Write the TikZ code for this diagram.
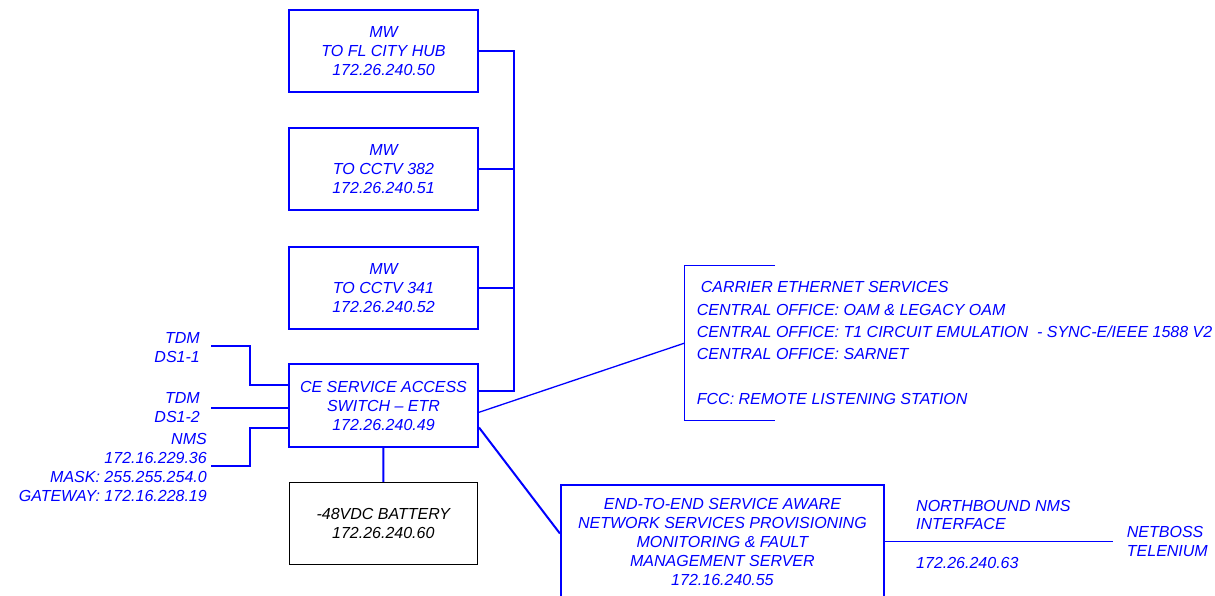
\documentclass[tikz,border=0pt]{standalone}
\usepackage{fontspec}
\setmainfont{Liberation Sans}
\usetikzlibrary{arrows,positioning,shapes}
\usepackage{xcolor}
\definecolor{netblue}{RGB}{0,0,255}

\begin{document}
\begin{tikzpicture}[x=1pt, y=-1pt,
    every node/.style={
        inner sep=0pt,
        align=center,
        text=netblue,
        font=\fontsize{16}{19}\selectfont\itshape
    },
    box/.style={rectangle, draw=netblue, line width=2pt, minimum width=189pt, minimum height=82pt},
    link/.style={draw=netblue, line width=2pt}
]
\useasboundingbox (0,0) rectangle (1215,596);



    \node (mw_fl_city_hub) [box, shift={(383.5, 51)}]
    {
        MW\\TO FL CITY HUB\\172.26.240.50
    };

    \node (mw_cctv_382) [box, shift={(383.5, 169)}]
    {
        MW\\TO CCTV 382\\172.26.240.51
    };

    \node (mw_cctv_341) [box, shift={(383.5, 287.7)}]
    {
        MW\\TO CCTV 341\\172.26.240.52
    };

    \node (ce_switch_etr) [box, minimum height=83pt, shift={(383.5, 405.5)}]
    {
        CE SERVICE ACCESS\\SWITCH -- ETR\\172.26.240.49
    };

    \node (battery_48vdc) [box, draw=black, text=black, line width=0.9pt, minimum width=188pt, shift={(383.3, 523.2)}]
    {
        -48VDC BATTERY\\172.26.240.60
    };

    \node (nms_server) [box, minimum width=323pt, minimum height=113pt, shift={(722.4, 541.5)}]
    {
        END-TO-END SERVICE AWARE\\NETWORK SERVICES PROVISIONING\\MONITORING \& FAULT\\MANAGEMENT SERVER\\172.16.240.55
    };





    \node (tdm_ds1_1) [anchor=east, align=right, shift={(200, 348)}]
    {
        TDM\\DS1-1
    };

    \node (tdm_ds1_2) [anchor=east, align=right, shift={(200, 407.2)}]
    {
        TDM\\DS1-2
    };

    \node (nms_mgmt) [anchor=east, align=right, shift={(207, 467.4)}]
    {
        NMS\\172.16.229.36\\MASK: 255.255.254.0\\GATEWAY: 172.16.228.19
    };

    \coordinate (ds1_1_end) at (211, 345.7);
    \coordinate (ds1_2_end) at (211, 407.7);
    \coordinate (nms_end) at (211, 465.7);

    \node (carrier_services) [anchor=west, align=left, inner xsep=12.4pt, inner ysep=16pt,
        font=\fontsize{16}{22.3}\selectfont\itshape, shift={(684.3, 343.2)}]
    {
        \hspace{4pt}CARRIER ETHERNET SERVICES\\
        CENTRAL OFFICE: OAM \& LEGACY OAM\\
        CENTRAL OFFICE: T1 CIRCUIT EMULATION \ - SYNC-E/IEEE 1588 V2\\
        CENTRAL OFFICE: SARNET\\[22.3pt]
        FCC: REMOTE LISTENING STATION
    };

    \node (northbound_txt) [anchor=west, align=left, font=\fontsize{16}{18.6}\selectfont\itshape, shift={(916, 515)}]
    {
        NORTHBOUND NMS\\INTERFACE
    };

    \node (northbound_ip) [anchor=west, shift={(916, 563.3)}]
    {
        172.26.240.63
    };

    \node (netboss_telenium) [anchor=west, align=left, inner xsep=13.7pt, shift={(1113, 541.5)}]
    {
        NETBOSS\\TELENIUM
    };


    \draw[link] (mw_fl_city_hub.east) -- ++(34.5, 0) |- ([yshift=15pt]ce_switch_etr.east);
    \draw[link] (mw_cctv_382.east) -- ++(34.5, 0);
    \draw[link] (mw_cctv_341.east) -- ++(34.5, 0);
    \draw[link] (ce_switch_etr) -- (battery_48vdc);
    \draw[link] (ds1_1_end) -- ++(39, 0) |- ([yshift=21pt]ce_switch_etr.west);
    \draw[link] (ds1_2_end) -- (ds1_2_end -| ce_switch_etr.west);
    \draw[link] (nms_end) -- ++(39, 0) |- ([yshift=-22pt]ce_switch_etr.west);
    \draw[link, line width=1.3pt] ([yshift=-6.8pt]ce_switch_etr.east) -- (carrier_services.west);
    \draw[link, line width=1pt] ([xshift=90.7pt]carrier_services.north west) -- (carrier_services.north west)
        -- (carrier_services.south west) -- ++(90.7, 0);
    \draw[link] ([yshift=-22pt]ce_switch_etr.east) -- ([yshift=8pt]nms_server.west);
    \draw[link, line width=1.6pt] (nms_server.east) -- (netboss_telenium.west);


\end{tikzpicture}
\end{document}
